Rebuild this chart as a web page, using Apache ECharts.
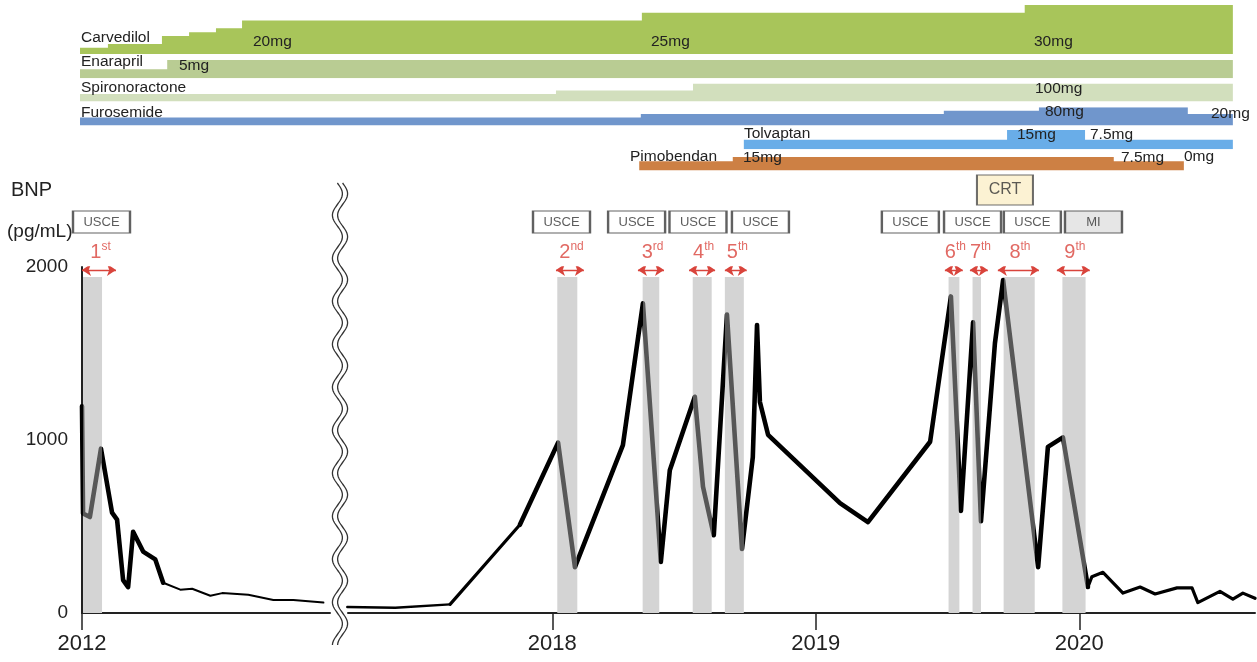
<!DOCTYPE html>
<html>
<head>
<meta charset="utf-8">
<script src="https://cdn.jsdelivr.net/npm/echarts@6/dist/echarts.min.js"></script>
<style>
html,body{margin:0;padding:0;background:#fff;}
#chart{width:1257px;height:662px;}
</style>
</head>
<body>
<div id="chart"></div>
<script>
// BNP (pg/mL), time in decimal years
var bnp2012Time = [2012.000, 2012.004, 2012.030, 2012.072, 2012.114, 2012.133, 2012.156, 2012.175, 2012.194, 2012.232, 2012.278, 2012.308, 2012.373, 2012.418, 2012.487, 2012.532, 2012.631, 2012.726, 2012.802, 2012.916];
var bnp2012Value = [1195, 575, 555, 950, 580, 540, 190, 150, 470, 355, 310, 175, 135, 140, 100, 115, 105, 75, 75, 60];
var bnpTime = [2017.222, 2017.404, 2017.612, 2017.877, 2018.022, 2018.086, 2018.268, 2018.344, 2018.412, 2018.446, 2018.541, 2018.572, 2018.613, 2018.663, 2018.720, 2018.761, 2018.777, 2018.788, 2018.819, 2019.092, 2019.198, 2019.434, 2019.513, 2019.551, 2019.597, 2019.627, 2019.680, 2019.711, 2019.844, 2019.881, 2019.938, 2020.033, 2020.048, 2020.090, 2020.166, 2020.231, 2020.288, 2020.371, 2020.428, 2020.450, 2020.534, 2020.583, 2020.621, 2020.667];
var bnpValue = [35, 30, 50, 510, 985, 265, 970, 1790, 295, 825, 1250, 730, 450, 1725, 370, 900, 1665, 1220, 1030, 635, 525, 990, 1830, 590, 1680, 530, 1560, 1925, 265, 960, 1015, 150, 210, 235, 115, 150, 110, 145, 145, 60, 125, 80, 115, 85];

// hospitalisation episodes (shaded) and arrows
var episodeStart = [2012.004, 2018.019, 2018.343, 2018.533, 2018.655, 2019.504, 2019.595, 2019.713, 2019.936];
var episodeEnd = [2012.076, 2018.095, 2018.406, 2018.605, 2018.727, 2019.545, 2019.627, 2019.831, 2020.024];
var arrowStart = [2012.000, 2018.014, 2018.325, 2018.519, 2018.655, 2019.490, 2019.585, 2019.691, 2019.915];
var arrowEnd = [2012.129, 2018.120, 2018.424, 2018.618, 2018.738, 2019.558, 2019.653, 2019.847, 2020.040];
var ordinalNum = ['1', '2', '3', '4', '5', '6', '7', '8', '9'];
var ordinalSup = ['st', 'nd', 'rd', 'th', 'th', 'th', 'th', 'th', 'th'];
var eventName = ['USCE', 'USCE', 'USCE', 'USCE', 'USCE', 'USCE', 'USCE', 'USCE', 'MI'];
var eventTime = [2012.074, 2018.035, 2018.320, 2018.553, 2018.790, 2019.359, 2019.595, 2019.822, 2020.054];
var crtTime = 2019.718;

var leftTicks = [2012];
var rightTicks = [2018, 2019, 2020];

// medication (mg), step starts + end of treatment
var carvedilolTime = [2012.0, 2012.106, 2012.311, 2012.414, 2012.516, 2012.615, 2018.340, 2019.793, 2020.583];
var carvedilolDose = [2.5, 5, 10, 12.5, 15, 20, 25, 30, 30];
var enalaprilTime = [2012.0, 2012.331, 2020.583];
var enalaprilDose = [2.5, 5, 5];
var spironolactoneTime = [2012.0, 2018.014, 2018.534, 2020.583];
var spironolactoneDose = [25, 50, 100, 100];
var furosemideTime = [2012.0, 2018.336, 2019.486, 2019.847, 2020.412, 2020.583];
var furosemideDose = [10, 20, 40, 80, 20, 20];
var tolvaptanTime = [2018.727, 2019.726, 2020.022, 2020.583];
var tolvaptanDose = [7.5, 15, 7.5, 7.5];
var pimobendanTime = [2018.330, 2018.685, 2020.131, 2020.397];
var pimobendanDose = [7.5, 15, 7.5, 7.5];

var FONT = 'Liberation Sans, Arial, Helvetica, sans-serif';
var RED = '#d9443c';
var TOP_MIN = 2016.2076, TOP_MAX = 2020.667;
var BAND_TOP = 1942, ARROW_Y = 1983, ORD_Y = 2098, BOX_Y = 2260, CRT_Y = 2445;

// top panel runs across the axis break: 2012 is drawn just before 2017
function disp(t) { return t < 2015 ? t - 2012 + TOP_MIN : t; }

function pairs(ts, vs, a, b) {
	var out = [];
	for (var i = a; i <= b; i++) out.push([ts[i], vs[i]]);
	return out;
}
function plain(v) { return String(Math.round(v)); }

var rows = [
	{t: carvedilolTime, d: carvedilolDose, color: '#a8c55a', top: 5, h: 49, y: {type: 'value', min: -1.5, max: 30}},
	{t: enalaprilTime, d: enalaprilDose, color: '#b9cc93', top: 60, h: 18.3, y: {type: 'value', min: 0, max: 5}},
	{t: spironolactoneTime, d: spironolactoneDose, color: '#d2dfbd', top: 83.5, h: 18, y: {type: 'value', min: -28.6, max: 100}},
	{t: furosemideTime, d: furosemideDose, color: '#7096cc', top: 107.2, h: 18.3, y: {type: 'log', min: 2, max: 80}},
	{t: tolvaptanTime, d: tolvaptanDose, color: '#69ade8', top: 130, h: 19.3, y: {type: 'value', min: 0, max: 15}},
	{t: pimobendanTime, d: pimobendanDose, color: '#cd8044', top: 157, h: 13.5, y: {type: 'value', min: -8.5, max: 15}}
];

var grids = [
	{left: 82, top: 267, width: 248, height: 346},
	{left: 348, top: 267, width: 907, height: 346}
];
var xAxes = [
	{gridIndex: 0, type: 'value', min: 2012, max: 2012.941,
		axisLine: {lineStyle: {color: '#222', width: 2}},
		axisTick: {customValues: leftTicks, length: 17, lineStyle: {color: '#222', width: 1.5}},
		axisLabel: {customValues: leftTicks, formatter: plain, showMinLabel: true, fontSize: 22, color: '#222', margin: 20, fontFamily: FONT},
		splitLine: {show: false}},
	{gridIndex: 1, type: 'value', min: 2017.2247, max: 2020.667,
		axisLine: {lineStyle: {color: '#222', width: 2}},
		axisTick: {customValues: rightTicks, length: 17, lineStyle: {color: '#222', width: 1.5}},
		axisLabel: {customValues: rightTicks, formatter: plain, fontSize: 22, color: '#222', margin: 20, fontFamily: FONT},
		splitLine: {show: false}}
];
var yAxes = [
	{gridIndex: 0, type: 'value', min: 0, max: 2000, interval: 1000,
		axisLine: {show: true, lineStyle: {color: '#222', width: 2}},
		axisTick: {show: false},
		axisLabel: {formatter: plain, fontSize: 19, color: '#222', margin: 14, fontFamily: FONT},
		splitLine: {show: false}},
	{gridIndex: 1, type: 'value', min: 0, max: 2000, show: false, splitLine: {show: false}}
];
var series = [];

function bandItem(params, api) {
	var p0 = api.coord([api.value(0), BAND_TOP]);
	var p1 = api.coord([api.value(1), 0]);
	return {type: 'rect', shape: {x: p0[0], y: p0[1], width: p1[0] - p0[0], height: p1[1] - p0[1]},
		style: {fill: '#d4d4d4'}};
}

function bandData(a, b) {
	var out = [];
	for (var i = a; i <= b; i++) out.push([episodeStart[i], episodeEnd[i]]);
	return out;
}
function arrowData(a, b) {
	var out = [];
	for (var i = a; i <= b; i++) out.push({coords: [[arrowStart[i], ARROW_Y], [arrowEnd[i], ARROW_Y]]});
	return out;
}
function ordinalData(a, b) {
	var out = [];
	for (var i = a; i <= b; i++) {
		out.push({value: [(arrowStart[i] + arrowEnd[i]) / 2 + 0.006, ORD_Y],
			label: {formatter: '{n|' + ordinalNum[i] + '}{s|' + ordinalSup[i] + '}'}});
	}
	return out;
}
function eventData(a, b) {
	var out = [];
	for (var i = a; i <= b; i++) {
		var item = {value: [eventTime[i], BOX_Y], name: eventName[i]};
		if (eventName[i] === 'MI') item.itemStyle = {color: '#e0e0e0'};
		out.push(item);
	}
	return out;
}

[0, 1].forEach(function (g) {
	series.push({type: 'custom', xAxisIndex: g, yAxisIndex: g, z: 1, silent: true,
		renderItem: bandItem, data: g === 0 ? bandData(0, 0) : bandData(1, 8)});
	series.push({type: 'lines', coordinateSystem: 'cartesian2d', xAxisIndex: g, yAxisIndex: g, z: 4, silent: true,
		symbol: ['arrow', 'arrow'], symbolSize: 9,
		lineStyle: {color: RED, width: 1.4, opacity: 1},
		data: g === 0 ? arrowData(0, 0) : arrowData(1, 8)});
	series.push({type: 'scatter', xAxisIndex: g, yAxisIndex: g, clip: false, z: 5, silent: true,
		symbolSize: 1, itemStyle: {color: 'rgba(0,0,0,0)'},
		label: {show: true, position: 'inside', color: RED, fontFamily: FONT,
			rich: {
				n: {fontSize: 20, color: RED, fontFamily: FONT, verticalAlign: 'bottom', lineHeight: 24},
				s: {fontSize: 12, color: RED, fontFamily: FONT, verticalAlign: 'bottom', lineHeight: 24, padding: [0, 0, 9, 0]}
			}},
		data: g === 0 ? ordinalData(0, 0) : ordinalData(1, 8)});
	series.push({type: 'scatter', xAxisIndex: g, yAxisIndex: g, clip: false, z: 5, silent: true,
		symbol: 'rect', symbolSize: [57, 22],
		itemStyle: {color: '#fff', borderColor: '#3a3a3a', borderWidth: 1.5},
		label: {show: true, position: 'inside', formatter: '{b}', fontSize: 13, color: '#333', fontFamily: FONT},
		data: g === 0 ? eventData(0, 0) : eventData(1, 8)});
});
series.push({type: 'scatter', xAxisIndex: 1, yAxisIndex: 1, clip: false, z: 5, silent: true,
	symbol: 'rect', symbolSize: [56, 30],
	itemStyle: {color: '#fbefc8', borderColor: '#4a4a4a', borderWidth: 1.5},
	label: {show: true, position: 'inside', formatter: 'CRT', fontSize: 16, color: '#333', fontFamily: FONT},
	data: [[crtTime, CRT_Y]]});

// BNP line, split where the drawn stroke changes thickness
var lineParts = [
	{g: 0, data: pairs(bnp2012Time, bnp2012Value, 0, 11), w: 4.6},
	{g: 0, data: pairs(bnp2012Time, bnp2012Value, 11, bnp2012Time.length - 1), w: 2},
	{g: 1, data: pairs(bnpTime, bnpValue, 0, 2), w: 2.4},
	{g: 1, data: pairs(bnpTime, bnpValue, 2, 3), w: 3.2},
	{g: 1, data: pairs(bnpTime, bnpValue, 3, 31), w: 4.6},
	{g: 1, data: pairs(bnpTime, bnpValue, 31, bnpTime.length - 1), w: 3.2}
];
var lineIdx = [];
lineParts.forEach(function (p) {
	lineIdx.push(series.length);
	series.push({type: 'line', xAxisIndex: p.g, yAxisIndex: p.g, z: 3, symbol: 'none', silent: true,
		lineStyle: {width: p.w, cap: 'round', join: 'round'}, data: p.data});
});

// medication rows
rows.forEach(function (r, i) {
	var gi = grids.length;
	grids.push({left: 80, width: 1175, top: r.top, height: r.h});
	xAxes.push({gridIndex: gi, type: 'value', min: TOP_MIN, max: TOP_MAX, show: false});
	var ya = {gridIndex: gi, show: false, splitLine: {show: false}};
	for (var k in r.y) ya[k] = r.y[k];
	yAxes.push(ya);
	series.push({type: 'line', xAxisIndex: gi, yAxisIndex: gi, step: 'end', symbol: 'none', silent: true,
		lineStyle: {width: 0, opacity: 0},
		areaStyle: {color: r.color, opacity: 1, origin: 'start'},
		data: r.t.map(function (t, j) { return [disp(t), r.d[j]]; })});
});

var pieces = episodeStart.map(function (s, i) { return {gte: s, lte: episodeEnd[i], color: '#575757'}; });

function txt(x, y, s, size, align) {
	return {type: 'text', x: x, y: y, silent: true, z: 10,
		style: {text: s, fill: '#222', fontSize: size || 15.5, fontFamily: FONT, align: align || 'left', verticalAlign: 'middle'}};
}
var graphics = [
	txt(81, 38, 'Carvedilol'), txt(253, 42, '20mg'), txt(651, 42, '25mg'), txt(1034, 42, '30mg'),
	txt(81, 62, 'Enarapril'), txt(179, 66, '5mg'),
	txt(81, 88, 'Spironoractone'), txt(1035, 89, '100mg'),
	txt(81, 113, 'Furosemide'), txt(1045, 112, '80mg'), txt(1211, 114, '20mg'),
	txt(744, 134, 'Tolvaptan'), txt(1017, 135, '15mg'), txt(1090, 135, '7.5mg'),
	txt(717, 157, 'Pimobendan', 15.5, 'right'), txt(743, 158, '15mg'), txt(1121, 158, '7.5mg'), txt(1184, 157, '0mg'),
	txt(11, 190, 'BNP', 20), txt(7, 232, '(pg/mL)', 19)
];
// axis break: double wavy line
[-2.6, 2.6].forEach(function (dx) {
	var pts = [];
	for (var y = 183; y <= 645; y += 2) {
		pts.push([340 + dx + 5 * Math.sin(2 * Math.PI * (y - 183) / 43), y]);
	}
	graphics.push({type: 'polyline', silent: true, z: 10, shape: {points: pts},
		style: {stroke: '#333', lineWidth: 1.3, fill: null}});
});

var chart = echarts.init(document.getElementById('chart'));
chart.setOption({
	animation: false,
	textStyle: {fontFamily: FONT},
	grid: grids,
	xAxis: xAxes,
	yAxis: yAxes,
	visualMap: {type: 'piecewise', show: false, dimension: 0, seriesIndex: lineIdx,
		pieces: pieces, outOfRange: {color: '#000'}},
	graphic: graphics,
	series: series
});
</script>
</body>
</html>
